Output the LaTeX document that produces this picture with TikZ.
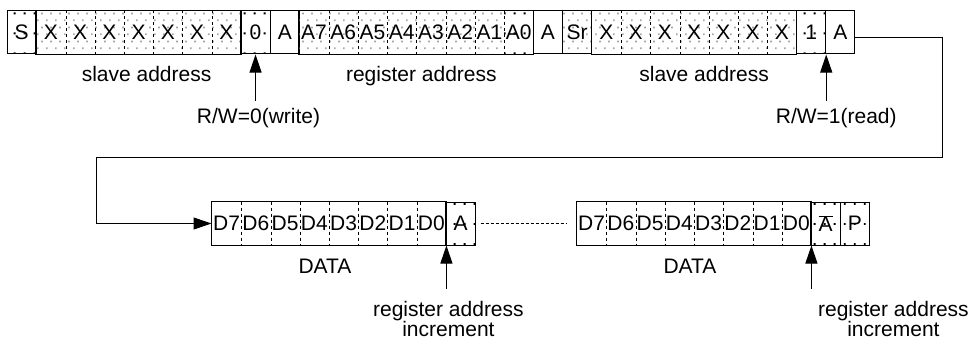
\documentclass[tikz,border=0pt]{standalone}
\usepackage{fontspec}
\setmainfont{Liberation Sans}
\usetikzlibrary{positioning,fit,arrows.meta,patterns.meta}

% black dots for the top row and for the data row, grey staggered dots
\pgfdeclarepattern{
  name=bitdots, type=uncolored,
  bottom left={\pgfpointorigin}, top right={\pgfpoint{10pt}{20pt}},
  tile size={\pgfpoint{10pt}{20pt}},
  code={\pgfpathrectangle{\pgfpoint{4pt}{11pt}}{\pgfpoint{2pt}{2pt}}\pgfusepath{fill}}
}
\pgfdeclarepattern{
  name=lowdots, type=uncolored,
  bottom left={\pgfpointorigin}, top right={\pgfpoint{10pt}{20pt}},
  tile size={\pgfpoint{10pt}{20pt}},
  code={\pgfpathrectangle{\pgfpoint{4pt}{0pt}}{\pgfpoint{2pt}{2pt}}\pgfusepath{fill}}
}
\pgfdeclarepattern{
  name=greydots, type=uncolored,
  bottom left={\pgfpointorigin}, top right={\pgfpoint{9pt}{14pt}},
  tile size={\pgfpoint{9pt}{14pt}},
  code={\pgfpathrectangle{\pgfpoint{1.1pt}{2.1pt}}{\pgfpoint{1.8pt}{1.8pt}}
        \pgfpathrectangle{\pgfpoint{5.6pt}{9.1pt}}{\pgfpoint{1.8pt}{1.8pt}}\pgfusepath{fill}}
}
\newcommand{\ovl}[1]{$\overline{\hbox{#1}}$}

\tikzset{
  bit/.style={draw, minimum width=29.24pt, minimum height=43pt, inner sep=0pt},
  inbit/.style={minimum width=29.24pt, minimum height=43pt, inner sep=0pt},
  grey dots/.style={pattern=greydots, pattern color=gray!70},
  black dots/.style={pattern=bitdots, pattern color=black},
  low dots/.style={pattern=lowdots, pattern color=black},
  grp/.style={draw, inner sep=0pt},
  sep/.style={line width=0.9pt, dash pattern=on 3pt off 3pt},
  uparrow/.style={-{Triangle[length=18pt,width=12pt]}},
  note/.style={inner sep=0pt, align=center},
}

\begin{document}
\begin{tikzpicture}[x=1pt, y=1pt, node distance=29.24pt, line width=1pt, font=\fontsize{21}{20}\selectfont]
\useasboundingbox (0,0) rectangle (971,-345);

% write slave address + register address
\node[bit, black dots] (s) at (21.62,-32.5) {S};
\node[inbit, grey dots, right of=s] (x1) {X};
\node[inbit, grey dots, right of=x1] (x2) {X};
\node[inbit, grey dots, right of=x2] (x3) {X};
\node[inbit, grey dots, right of=x3] (x4) {X};
\node[inbit, grey dots, right of=x4] (x5) {X};
\node[inbit, grey dots, right of=x5] (x6) {X};
\node[inbit, grey dots, right of=x6] (x7) {X};
\node[bit, black dots, right of=x7] (w0) {0};
\node[bit, right of=w0] (ack1) {A};
\node[inbit, grey dots, right of=ack1] (r7) {A7};
\node[inbit, grey dots, right of=r7] (r6) {A6};
\node[inbit, grey dots, right of=r6] (r5) {A5};
\node[inbit, grey dots, right of=r5] (r4) {A4};
\node[inbit, grey dots, right of=r4] (r3) {A3};
\node[inbit, grey dots, right of=r3] (r2) {A2};
\node[inbit, grey dots, right of=r2] (r1) {A1};
\node[inbit, black dots, right of=r1] (r0) {A0};
\node[bit, right of=r0] (ack2) {A};

% repeated start, read slave address
\node[bit, grey dots, right of=ack2] (sr) {Sr};
\node[inbit, grey dots, right of=sr] (y1) {X};
\node[inbit, grey dots, right of=y1] (y2) {X};
\node[inbit, grey dots, right of=y2] (y3) {X};
\node[inbit, grey dots, right of=y3] (y4) {X};
\node[inbit, grey dots, right of=y4] (y5) {X};
\node[inbit, grey dots, right of=y5] (y6) {X};
\node[inbit, grey dots, right of=y6] (y7) {X};
\node[bit, black dots, right of=y7] (w1) {1};
\node[bit, right of=w1] (ack3) {A};

% data bytes
\node[inbit] (d7) at (226.62,-223.5) {D7};
\node[inbit, right of=d7] (d6) {D6};
\node[inbit, right of=d6] (d5) {D5};
\node[inbit, right of=d5] (d4) {D4};
\node[inbit, right of=d4] (d3) {D3};
\node[inbit, right of=d3] (d2) {D2};
\node[inbit, right of=d2] (d1) {D1};
\node[inbit, right of=d1] (d0) {D0};
\node[bit, low dots, right of=d0] (mack) {A};
\node[inbit] (e7) at (591.62,-223.5) {D7};
\node[inbit, right of=e7] (e6) {D6};
\node[inbit, right of=e6] (e5) {D5};
\node[inbit, right of=e5] (e4) {D4};
\node[inbit, right of=e4] (e3) {D3};
\node[inbit, right of=e3] (e2) {D2};
\node[inbit, right of=e2] (e1) {D1};
\node[inbit, right of=e1] (e0) {D0};
\node[bit, low dots, right of=e0] (nack) {\ovl{A}};
\node[bit, low dots, right of=nack] (stop) {P};

% group frames and bit separators
\node[grp, fit=(x1)(x7)] (gx) {};
\node[grp, fit=(r7)(r0)] (gr) {};
\node[grp, fit=(y1)(y7)] (gy) {};
\node[grp, fit=(d7)(d0)] (gd) {};
\node[grp, fit=(e7)(e0)] (ge) {};
\foreach \c in {x1,x2,x3,x4,x5,x6,r7,r6,r5,r4,r3,r2,r1,y1,y2,y3,y4,y5,y6,d7,d6,d5,d4,d3,d2,d1,e7,e6,e5,e4,e3,e2,e1}
  \draw[sep] (\c.north east) -- (\c.south east);

% field labels
\node[note, below=11pt of gx.south, xshift=8pt] (sla1) {slave address};
\node[note, below=11pt of gr.south, xshift=5pt] (rega) {register address};
\node[note, below=11pt of gy.south, xshift=10pt] (sla2) {slave address};
\node[note, below=13pt of gd.south, xshift=-4pt] (data1) {DATA};
\node[note, below=13pt of ge.south, xshift=-4pt] (data2) {DATA};

% pointers
\node[note, below=53pt of w0.south, xshift=3pt] (rw0) {R/W=0(write)};
\node[note, below=53pt of w1.south east, xshift=10pt] (rw1) {R/W=1(read)};
\node[note, below=55pt of d0.south east, xshift=2pt] (inc1) {register address\\increment};
\node[note, below=55pt of e0.south east, xshift=82pt] (inc2) {register address\\increment};
\draw[uparrow, shorten <=7pt] (w0.south |- rw0.north) -- (w0.south);
\draw[uparrow, shorten <=7pt] (w1.south east |- rw1.north) -- (w1.south east);
\draw[uparrow, shorten <=12pt] (d0.south east |- inc1.north) -- (d0.south east);
\draw[uparrow, shorten <=12pt] (e0.south east |- inc2.north) -- (e0.south east);

% wrap from read address to data
\coordinate (turnR) at (942,-157);
\coordinate (turnL) at (96,-157);
\draw[uparrow] ([yshift=-5pt]ack3.east) -| (turnR) -- (turnL) |- (d7.west);
\draw[sep, line width=1pt, dash pattern=on 3pt off 2pt, shorten <=5pt, shorten >=10pt] (mack.east) -- (e7.west);
\end{tikzpicture}
\end{document}
